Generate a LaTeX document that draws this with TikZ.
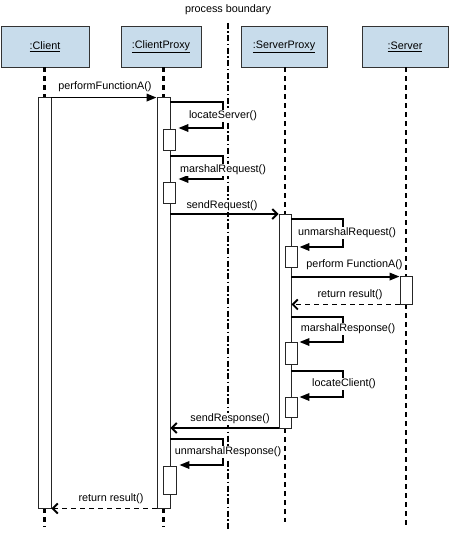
\documentclass[tikz,border=0pt]{standalone}
\usepackage{fontspec}
\setmainfont{Liberation Sans}
\usetikzlibrary{arrows.meta}
\definecolor{hdr}{RGB}{200,220,235}
\newcommand\fsz{\fontsize{10.8bp}{12bp}\selectfont}
\begin{document}
\begin{tikzpicture}[x=1bp,y=-1bp,
  hdrbox/.style={draw=black!80, fill=hdr, line width=0.8bp, minimum height=41bp, inner sep=0pt, font=\fsz},
  bar/.style={draw=black!85, fill=white, line width=0.9bp, minimum width=12bp, inner sep=0pt},
  lifeline/.style={line width=2.1bp, dash pattern=on 5bp off 4bp},
  boundary/.style={line width=1.3bp, dash pattern=on 6bp off 2.5bp on 1.5bp off 2.5bp},
  msg/.style={line width=1.9bp, -{Triangle[length=10bp,width=7.5bp]}},
  opn/.style={line width=1.9bp, -{Straight Barb[length=5bp,width=10bp]}},
  ret/.style={opn, dash pattern=on 5bp off 4bp},
  lbl/.style={fill=white, inner sep=1bp, font=\fsz}]
\useasboundingbox (0,0) rectangle (450,539);
\fill[white] (0,0) rectangle (450,539);

% headers
\node[hdrbox, minimum width=88bp] (hc)  at (45,46.5)  {\underline{:Client}};
\node[hdrbox, minimum width=80bp] (hcp) at (161,46.5) {\underline{:ClientProxy}};
\node[hdrbox, minimum width=86bp] (hsp) at (284,46.5) {\underline{:ServerProxy}};
\node[hdrbox, minimum width=86bp] (hs)  at (405,46.5) {\underline{:Server}};

% process boundary
\node[font=\fsz, inner sep=1bp] (pb) at (228,10) {process boundary};
\coordinate (pbt) at (228,23);
\coordinate (pbb) at (228,530);
\draw[boundary] (pbt) -- (pbb);

% bars (named, drawn later)
\path
  node[bar, minimum width=13bp, minimum height=411bp] (cb)  at (44.5,302.5) {}
  node[bar, minimum width=13bp, minimum height=411bp] (cpb) at (163.5,302.5) {}
  node[bar, minimum height=214bp] (spb) at (285,321) {}
  node[bar, minimum height=28bp]  (sb)  at (406,290) {};

\coordinate (bot) at (0,527);
\coordinate (bot2) at (0,522);
% lifelines
\draw[lifeline] (hc.south -| cb) -- (cb.north);
\draw[lifeline] (cb.south) -- (cb.south |- bot);
\draw[lifeline] (hcp.south -| cpb) -- (cpb.north);
\draw[lifeline] (cpb.south) -- (cpb.south |- bot);
\draw[lifeline] (hsp.south -| spb) -- (spb.north);
\draw[lifeline] (spb.south) -- (spb.south |- bot2);
\draw[lifeline] (hs.south -| sb) -- (sb.north);
\draw[lifeline] (sb.south) -- (sb.south |- bot);

% redraw bars on top
\node[bar, minimum width=13bp, minimum height=411bp] (cb)  at (44.5,302.5) {};
\node[bar, minimum width=13bp, minimum height=411bp] (cpb) at (163.5,302.5) {};
\node[bar, minimum height=214bp] (spb) at (285,321) {};
\node[bar, minimum height=28bp]  (sb)  at (406,290) {};

% sub activation boxes
\node[bar, minimum height=21bp] (ls)  at (169,139.5) {};
\node[bar, minimum height=21bp] (mr)  at (169,192.5) {};
\node[bar, minimum height=28bp, minimum width=13bp] (ur) at (169.5,480) {};
\node[bar, minimum height=21bp] (umr) at (291,256.5) {};
\node[bar, minimum height=22bp] (mrs) at (291,353) {};
\node[bar, minimum height=20bp] (lc)  at (291,407) {};

% performFunctionA()
\draw[msg] ([yshift=-1bp]cb.north east) -- ([yshift=-1bp]cpb.north west);
\node[lbl] (l1) at (105,87) {performFunctionA()};

% locateServer()
\coordinate (a1) at (223,102); \coordinate (a2) at (223,128);
\draw[msg] (cpb.east |- a1) -- (a1) -- (a2) -- ([xshift=3bp]ls.east |- a2);
\node[lbl] (l2) at (223,116) {locateServer()};

% marshalRequest()
\coordinate (b1) at (223,156); \coordinate (b2) at (223,179);
\draw[msg] (cpb.east |- b1) -- (b1) -- (b2) -- ([xshift=3bp]mr.east |- b2);
\node[lbl] (l3) at (223,170) {marshalRequest()};

% sendRequest()
\draw[opn] (cpb.east |- spb.north) ++(0,0.5) coordinate (c0) -- ([yshift=-0.5bp]spb.north west);
\node[lbl] (l4) at (222,206) {sendRequest()};

% unmarshalRequest()
\coordinate (d1) at (343,219); \coordinate (d2) at (343,247);
\draw[msg] (spb.east |- d1) -- (d1) -- (d2) -- ([xshift=2bp]umr.east |- d2);
\node[lbl] (l5) at (347,233) {unmarshalRequest()};

% perform FunctionA()
\draw[msg] ([yshift=-1bp]spb.east |- sb.north) -- ([yshift=-1bp]sb.north west);
\node[lbl] (l6) at (354.5,265) {perform FunctionA()};

% return result()
\draw[ret] (sb.south west) -- (spb.east |- sb.south);
\node[lbl] (l7) at (350,295) {return result()};

% marshalResponse()
\coordinate (e1) at (343,317); \coordinate (e2) at (343,342);
\draw[msg] (spb.east |- e1) -- (e1) -- (e2) -- ([xshift=2bp]mrs.east |- e2);
\node[lbl] (l8) at (348,329) {marshalResponse()};

% locateClient()
\coordinate (f1) at (343,371); \coordinate (f2) at (343,397);
\draw[msg] (spb.east |- f1) -- (f1) -- (f2) -- ([xshift=2bp]lc.east |- f2);
\node[lbl] (l9) at (344,384) {locateClient()};

% sendResponse()
\draw[opn] ([yshift=0.5bp]spb.south west) -- ([yshift=0.5bp]cpb.east |- spb.south);
\node[lbl] (l10) at (230,419) {sendResponse()};

% unmarshalResponse()
\coordinate (g1) at (223,439); \coordinate (g2) at (223,465);
\draw[msg] (cpb.east |- g1) -- (g1) -- (g2) -- ([xshift=3bp]ur.east |- g2);
\node[lbl] (l11) at (228,452) {unmarshalResponse()};

% return result() bottom
\draw[ret] (cpb.south west) -- (cb.south east);
\node[lbl] (l12) at (111,499) {return result()};
\end{tikzpicture}
\end{document}
